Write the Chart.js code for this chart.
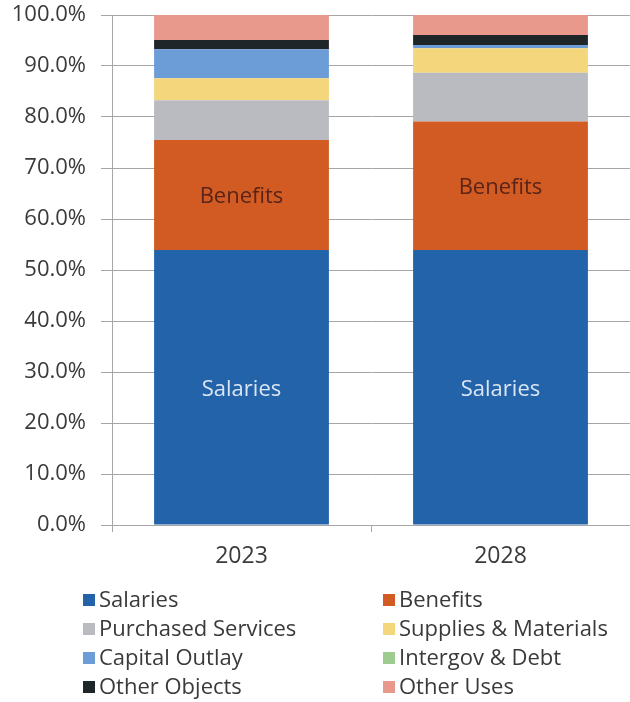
<!DOCTYPE html>
<html>
<head>
<meta charset="utf-8">
<script src="https://cdn.jsdelivr.net/npm/chart.js@4/dist/chart.umd.min.js"></script>
<style>
  html, body { margin: 0; padding: 0; background: #ffffff; }
  #wrap { width: 630px; height: 702px; position: relative; }
</style>
</head>
<body>
<div id="wrap"><canvas id="c" width="630" height="702"></canvas></div>
<script>
const categories = ['2023', '2028'];
const seriesNames = ['Salaries', 'Benefits', 'Purchased Services', 'Supplies & Materials', 'Capital Outlay', 'Intergov & Debt', 'Other Objects', 'Other Uses'];
const salaries = [53.9, 53.9];
const benefits = [21.6, 25.2];
const purchasedServices = [7.8, 9.6];
const suppliesMaterials = [4.3, 4.8];
const capitalOutlay = [5.7, 0.6];
const intergovDebt = [0.0, 0.0];
const otherObjects = [1.8, 2.0];
const otherUses = [4.9, 3.9];
const yTicks = [0, 10, 20, 30, 40, 50, 60, 70, 80, 90, 100];
const segmentLabels = ['Salaries', 'Benefits'];

const seriesValues = [salaries, benefits, purchasedServices, suppliesMaterials, capitalOutlay, intergovDebt, otherObjects, otherUses];
const colors = ['#2263AA', '#D25B23', '#B9BBC0', '#F4D67C', '#6C9DD7', '#9ECB90', '#1F2629', '#E9998B'];

const FONT = '"Open Sans", sans-serif';
const TEXT = '#3a3a3a';

const datasets = seriesNames.map((n, i) => ({
  label: n,
  data: seriesValues[i],
  backgroundColor: colors[i],
  borderWidth: 0,
  barPercentage: 0.675,
  categoryPercentage: 1.0
}));

const segLabelPlugin = {
  id: 'segLabels',
  afterDatasetsDraw(chart) {
    const ctx = chart.ctx;
    ctx.save();
    ctx.font = '22px ' + FONT;
    ctx.textAlign = 'center';
    ctx.textBaseline = 'middle';
    chart.data.datasets.forEach((ds, di) => {
      if (!segmentLabels.includes(ds.label)) return;
      const meta = chart.getDatasetMeta(di);
      ctx.fillStyle = ds.label === 'Salaries' ? '#dbe5f3' : '#5a2418';
      meta.data.forEach(bar => {
        ctx.fillText(ds.label, bar.x, (bar.y + bar.base) / 2 + 2);
      });
    });
    ctx.restore();
  }
};

const legendPlugin = {
  id: 'gridLegend',
  afterDraw(chart) {
    const ctx = chart.ctx;
    ctx.save();
    ctx.font = '22px ' + FONT;
    ctx.textBaseline = 'middle';
    ctx.textAlign = 'left';
    const colX = [83, 383];
    const rowY = [600, 629, 658, 687];
    chart.data.datasets.forEach((ds, i) => {
      const x = colX[i % 2];
      const y = rowY[Math.floor(i / 2)];
      ctx.fillStyle = ds.backgroundColor;
      ctx.fillRect(x, y - 6, 12, 12);
      ctx.fillStyle = TEXT;
      ctx.fillText(ds.label, x + 16, y + 1);
    });
    ctx.restore();
  }
};

new Chart(document.getElementById('c'), {
  type: 'bar',
  data: { labels: categories, datasets },
  options: {
    responsive: false,
    animation: false,
    layout: { padding: { top: 15, right: 0, bottom: 132, left: 0 } },
    plugins: { legend: { display: false }, tooltip: { enabled: false } },
    scales: {
      x: {
        stacked: true,
        grid: { offset: true, drawOnChartArea: false, drawTicks: true, tickLength: 7, color: '#a6a6a6' },
        border: { color: '#a6a6a6', width: 1 },
        ticks: { color: TEXT, font: { family: FONT, size: 23 }, padding: 11 },
        afterFit(axis) { axis.height = 45; axis.paddingLeft = 0; axis.paddingRight = 0; }
      },
      y: {
        stacked: true,
        min: 0,
        max: 100,
        afterBuildTicks(axis) { axis.ticks = yTicks.map(v => ({ value: v })); },
        grid: { color: '#a6a6a6', drawTicks: true, tickLength: 11 },
        border: { color: '#a6a6a6', width: 1 },
        ticks: {
          color: TEXT,
          font: { family: FONT, size: 22 },
          padding: 15,
          callback: v => v.toFixed(1) + '%'
        },
        afterFit(axis) { axis.width = 112; axis.paddingTop = 0; axis.paddingBottom = 0; }
      }
    }
  },
  plugins: [segLabelPlugin, legendPlugin]
});
</script>
</body>
</html>
